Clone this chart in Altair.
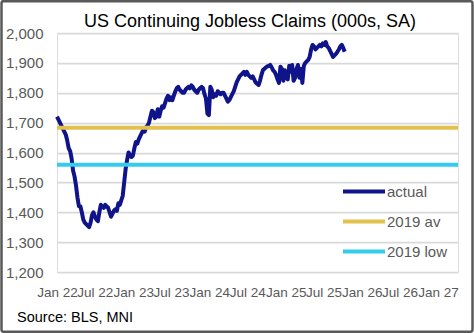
import altair as alt
import pandas as pd

TITLE = "US Continuing Jobless Claims (000s, SA)"
SOURCE = "Source: BLS, MNI"
SERIES = ["actual", "2019 av", "2019 low"]
COLORS = ["#10148A", "#E2C14E", "#33CCEE"]

START = "2022-01-01"  # first weekly observation
actual = [
    1720, 1710, 1700, 1690, 1680, 1670, 1660, 1640, 1615, 1605,
    1580, 1540, 1520, 1490, 1450, 1420, 1420, 1400, 1375, 1365,
    1360, 1355, 1350, 1365, 1390, 1400, 1385, 1375, 1370, 1400,
    1425, 1420, 1415, 1425, 1420, 1415, 1400, 1385, 1395, 1405,
    1410, 1405, 1430, 1425, 1440, 1455, 1500, 1545, 1575, 1600,
    1590, 1585, 1590, 1615, 1635, 1630, 1645, 1655, 1665, 1675,
    1670, 1685, 1690, 1700, 1720, 1740, 1735, 1715, 1720, 1745,
    1720, 1740, 1755, 1750, 1765, 1780, 1790, 1775, 1785, 1775,
    1790, 1805, 1815, 1820, 1810, 1805, 1800, 1800, 1810, 1815,
    1820, 1815, 1825, 1820, 1810, 1805, 1800, 1810, 1815, 1820,
    1815, 1795, 1780, 1730, 1725, 1820, 1810, 1785, 1795, 1790,
    1805, 1800, 1795, 1800, 1800, 1790, 1780, 1770, 1775, 1785,
    1795, 1805, 1820, 1835, 1845, 1855, 1860, 1865, 1870, 1860,
    1870, 1860, 1855, 1850, 1855, 1845, 1835, 1830, 1826, 1840,
    1860, 1876, 1880, 1885, 1888, 1890, 1893, 1885, 1875, 1870,
    1860, 1845, 1833, 1887, 1880, 1840, 1875, 1850, 1845, 1890,
    1870, 1893, 1840, 1850, 1880, 1893, 1850, 1880, 1833, 1890,
    1900, 1905, 1910, 1920, 1945, 1960, 1955, 1945, 1950, 1955,
    1960, 1955, 1965, 1960, 1970, 1955, 1950, 1940, 1930, 1920,
    1925, 1930, 1937, 1945, 1955, 1960, 1950, 1937,
]
avg_2019 = 1683
low_2019 = 1559

X_START = "2022-01-01"
X_END = "2027-04-07"
tick_dates = ["2022-01-01", "2022-07-01", "2023-01-01", "2023-07-01", "2024-01-01",
              "2024-07-01", "2025-01-01", "2025-07-01", "2026-01-01", "2026-07-01",
              "2027-01-01"]
y_ticks = [1200, 1300, 1400, 1500, 1600, 1700, 1800, 1900, 2000]

dates = pd.date_range(START, periods=len(actual), freq="7D")
df_actual = pd.DataFrame({"date": dates, "value": actual, "series": "actual", "order": 0})
df_av = pd.DataFrame({"date": pd.to_datetime([X_START, X_END]), "value": [avg_2019] * 2,
                      "series": "2019 av", "order": 1})
df_low = pd.DataFrame({"date": pd.to_datetime([X_START, X_END]), "value": [low_2019] * 2,
                       "series": "2019 low", "order": 2})
df = pd.concat([df_actual, df_av, df_low], ignore_index=True)
df["date"] = df["date"].dt.strftime("%Y-%m-%d")

W, H = 401, 239
PL, PT = 57, 33
FONT = "Liberation Sans"

def dt(s):
    y, m, d = s.split("-")
    return alt.DateTime(year=int(y), month=int(m), date=int(d))

lines = alt.Chart(df).mark_line(strokeJoin="round", strokeCap="butt").encode(
    x=alt.X("date:T",
            scale=alt.Scale(domain=[dt(X_START), dt(X_END)]),
            axis=alt.Axis(values=[dt(s) for s in tick_dates], format="%b %y",
                          title=None, grid=False, ticks=False, domain=False,
                          labelOverlap=False, labelFlush=False, labelPadding=13,
                          labelFontSize=13.5, labelColor="#595959", labelFont=FONT)),
    y=alt.Y("value:Q",
            scale=alt.Scale(domain=[1200, 2000], nice=False, zero=False),
            axis=alt.Axis(values=y_ticks, format=",.0f", title=None, ticks=False,
                          domain=False, labelPadding=14, labelFontSize=15,
                          labelColor="#595959", labelFont=FONT,
                          gridColor="#D9D9D9", gridWidth=1.75)),
    color=alt.Color("series:N",
                    scale=alt.Scale(domain=SERIES, range=COLORS),
                    sort=SERIES,
                    legend=alt.Legend(title=None, orient="none", legendX=284, legendY=151,
                                      symbolType="stroke", symbolSize=1764,
                                      symbolStrokeWidth=4, labelFontSize=15,
                                      labelFont=FONT, labelColor="#595959",
                                      labelOffset=0, clipHeight=15, rowPadding=14)),
    strokeWidth=alt.StrokeWidth("series:N", scale=alt.Scale(domain=SERIES, range=[4, 4, 4]),
                                legend=None),
    order=alt.Order("order:Q"),
    detail="series:N",
)

frame_df = pd.DataFrame({"k": [0]})
frame = alt.Chart(frame_df).mark_rect(fill=None, stroke="#595959", strokeWidth=2.5,
                                      cornerRadius=2).encode(
    x=alt.value(-PL + 1.5), x2=alt.value(474 - PL - 1.5),
    y=alt.value(-PT + 1.2), y2=alt.value(333 - PT - 1.2),
)

source = alt.Chart(frame_df).mark_text(text=SOURCE, align="left", baseline="alphabetic",
                                        fontSize=14.5, font=FONT, color="#000000").encode(
    x=alt.value(17 - PL), y=alt.value(322 - PT),
)

title = alt.Chart(frame_df).mark_text(text=TITLE, align="center", baseline="alphabetic",
                                       fontSize=18, font=FONT, color="#000000").encode(
    x=alt.value(250 - PL), y=alt.value(27 - PT),
)

chart = alt.layer(lines, frame, source, title).properties(
    width=W, height=H,
    autosize=alt.AutoSizeParams(type="none"),
    padding={"left": PL, "top": PT, "right": 474 - PL - W, "bottom": 333 - PT - H},
).configure_view(stroke=None).configure(background="#FFFFFF")

chart.save("out.html", embed_options={"renderer": "svg", "actions": False})
